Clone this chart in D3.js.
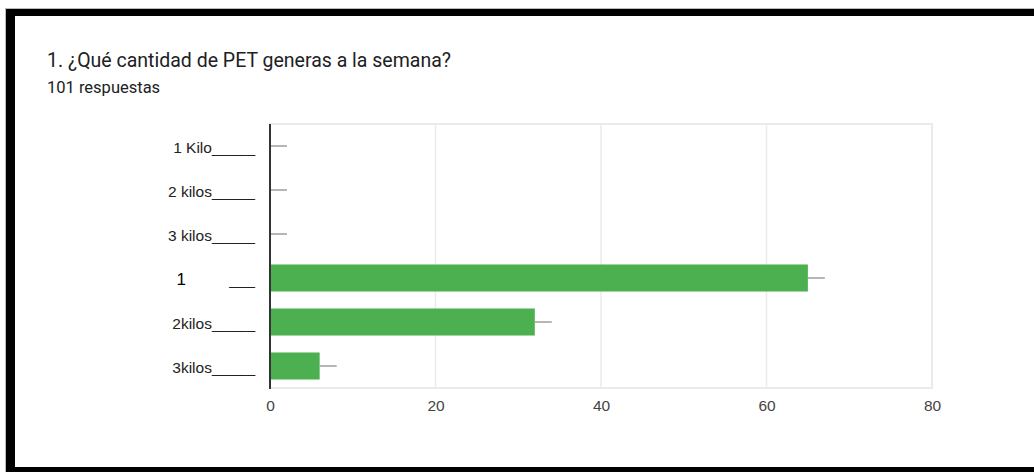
<!DOCTYPE html>
<html>
<head>
<meta charset="utf-8">
<script src="https://cdn.jsdelivr.net/npm/d3@7"></script>
<style>
  body { margin: 0; background: #fff; }
  svg { display: block; }
</style>
</head>
<body>
<div id="chart"></div>
<script>
// chart data
const categories = ["1 Kilo_____", "2 kilos_____", "3 kilos_____", "1          ___", "2kilos_____", "3kilos_____"];
const counts = [0, 0, 0, 65, 32, 6];
const xTicks = [0, 20, 40, 60, 80];
const title = "1. ¿Qué cantidad de PET generas a la semana?";
const subtitle = "101 respuestas";

const width = 1034, height = 472;

const svg = d3.select('#chart').append('svg')
  .attr('width', width)
  .attr('height', height);

svg.append('rect').attr('width', width).attr('height', height).attr('fill', '#fff');

let x = d3.scaleLinear().domain([0, 80]).range([270, 932]);
let y = d3.scaleBand().domain(categories).range([124, 388])
  .paddingInner(0.386).paddingOuter(0.193);

// titles
svg.append('text')
  .attr('x', 47).attr('y', 67)
  .attr('font-family', 'Roboto')
  .attr('font-size', 19.5)
  .attr('fill', '#202124')
  .text(title);

svg.append('text')
  .attr('x', 47).attr('y', 93)
  .attr('font-family', 'Roboto')
  .attr('font-size', 16.5)
  .attr('fill', '#202124')
  .text(subtitle);

// plot border + grid
svg.append('rect')
  .attr('x', x(0)).attr('y', 124)
  .attr('width', x(80) - x(0)).attr('height', 264)
  .attr('fill', 'none').attr('stroke', '#ebebeb').attr('stroke-width', 2);

svg.append('g')
  .selectAll('line')
  .data(xTicks.slice(1, -1))
  .join('line')
  .attr('x1', d => x(d)).attr('x2', d => x(d))
  .attr('y1', 124).attr('y2', 388)
  .attr('stroke', '#ebebeb').attr('stroke-width', 1.5);

// bars
svg.append('g')
  .selectAll('rect')
  .data(counts)
  .join('rect')
  .attr('x', x(0))
  .attr('y', (d, i) => y(categories[i]))
  .attr('width', d => x(d) - x(0))
  .attr('height', y.bandwidth())
  .attr('fill', '#4caf50');

// little count stubs
svg.append('g')
  .selectAll('line')
  .data(counts)
  .join('line')
  .attr('x1', d => x(d)).attr('x2', d => x(d) + 17)
  .attr('y1', (d, i) => y(categories[i]) + y.bandwidth() / 2)
  .attr('y2', (d, i) => y(categories[i]) + y.bandwidth() / 2)
  .attr('stroke', '#9e9e9e').attr('stroke-width', 1.5);

// x axis labels
let xAxis = d3.axisBottom(x).tickValues(xTicks).tickSize(0).tickPadding(0);
let gx = svg.append('g').attr('transform', 'translate(0,400)').call(xAxis);
gx.select('.domain').remove();
gx.selectAll('text')
  .attr('font-family', 'Liberation Sans, Arial')
  .attr('font-size', 15.5)
  .attr('fill', '#444');

// y axis
let yAxis = d3.axisLeft(y).tickSize(0).tickPadding(15);
let gy = svg.append('g').attr('transform', 'translate(270,0)').call(yAxis);
gy.select('.domain').remove();
gy.selectAll('text')
  .attr('font-family', 'Liberation Sans, Arial')
  .attr('font-size', 15.5)
  .attr('fill', '#222')
  .attr('dy', '0.42em')
  .style('white-space', 'pre');

// the odd "1" label has a bigger, darker digit
gy.selectAll('text').filter(d => d.startsWith('1 ') && d.endsWith(' ___'))
  .each(function(d) {
    let t = d3.select(this).text('');
    t.append('tspan').attr('font-size', 17).attr('fill', '#000').text(d.slice(0, 1));
    t.append('tspan').text(d.slice(1));
  });

svg.append('line')
  .attr('x1', x(0)).attr('x2', x(0))
  .attr('y1', 124).attr('y2', 389)
  .attr('stroke', '#333').attr('stroke-width', 2);

// screenshot frame
svg.append('rect').attr('x', 5).attr('y', 8).attr('width', width).attr('height', 1).attr('fill', '#bbb');
svg.append('rect').attr('x', 5).attr('y', 9).attr('width', width).attr('height', 7).attr('fill', '#000');
svg.append('rect').attr('x', 6).attr('y', 9).attr('width', 9).attr('height', height).attr('fill', '#000');
svg.append('rect').attr('x', 5).attr('y', 9).attr('width', 1).attr('height', height).attr('fill', '#bbb');
svg.append('rect').attr('x', 6).attr('y', 467).attr('width', width).attr('height', 5).attr('fill', '#000');
</script>
</body>
</html>
